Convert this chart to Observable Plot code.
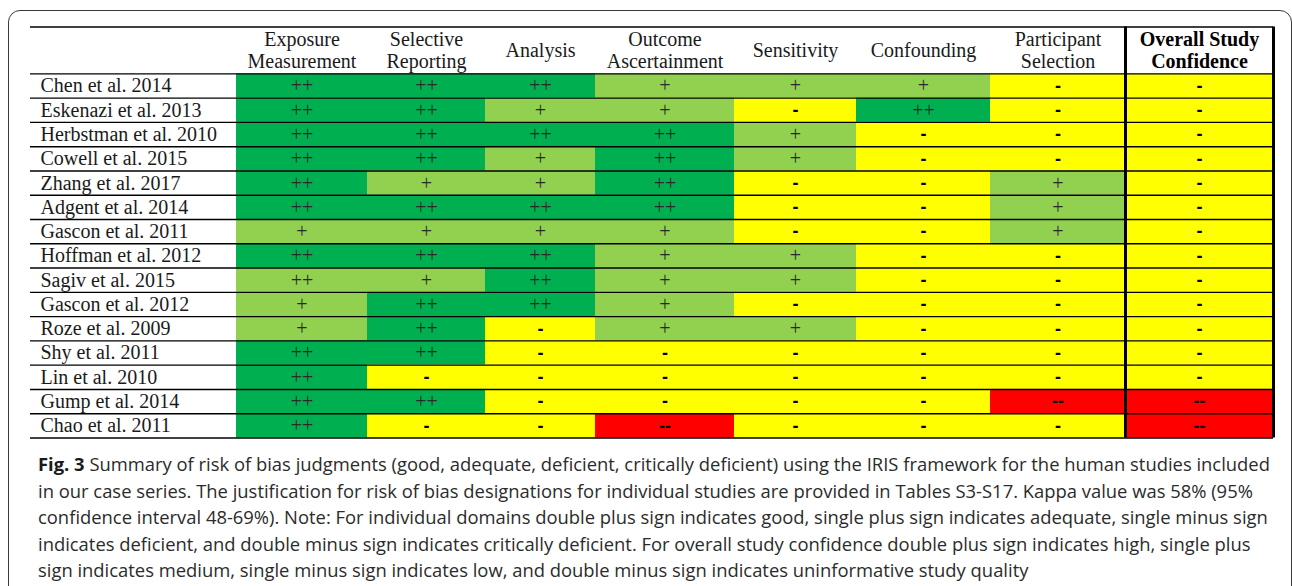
<!DOCTYPE html>
<html><head><meta charset="utf-8">
<script src="https://cdn.jsdelivr.net/npm/d3@7"></script>
<script src="https://cdn.jsdelivr.net/npm/@observablehq/plot@0.6"></script>
<style>
html,body{margin:0;padding:0;background:#fff;overflow:hidden;width:1292px;height:586px;}
#frame{position:absolute;left:8px;top:9.5px;width:1284px;height:700px;border:1.5px solid #3a3a3a;border-radius:12px;box-sizing:border-box;}
#chart{position:absolute;left:0;top:0;}
#caption{position:absolute;left:38px;top:451px;font-family:"Open Sans";font-size:18.4px;line-height:26.5px;color:#2b2b2b;white-space:nowrap;}
#caption b{font-weight:700;color:#1a1a1a;}
</style></head><body>
<div id="frame"></div>
<div id="chart"></div>
<div id="caption"></div>
<script>
// ---- data ----
const studies = [
  "Chen et al. 2014", "Eskenazi et al. 2013", "Herbstman et al. 2010", "Cowell et al. 2015",
  "Zhang et al. 2017", "Adgent et al. 2014", "Gascon et al. 2011", "Hoffman et al. 2012",
  "Sagiv et al. 2015", "Gascon et al. 2012", "Roze et al. 2009", "Shy et al. 2011",
  "Lin et al. 2010", "Gump et al. 2014", "Chao et al. 2011"
];
const domains = [
  "Exposure\nMeasurement", "Selective\nReporting", "Analysis", "Outcome\nAscertainment",
  "Sensitivity", "Confounding", "Participant\nSelection", "Overall Study\nConfidence"
];
const ratings = [
  ["++","++","++","+","+","+","-","-"],
  ["++","++","+","+","-","++","-","-"],
  ["++","++","++","++","+","-","-","-"],
  ["++","++","+","++","+","-","-","-"],
  ["++","+","+","++","-","-","+","-"],
  ["++","++","++","++","-","-","+","-"],
  ["+","+","+","+","-","-","+","-"],
  ["++","++","++","+","+","-","-","-"],
  ["++","+","++","+","+","-","-","-"],
  ["+","++","++","+","-","-","-","-"],
  ["+","++","-","+","+","-","-","-"],
  ["++","++","-","-","-","-","-","-"],
  ["++","-","-","-","-","-","-","-"],
  ["++","++","-","-","-","-","--","--"],
  ["++","-","-","--","-","-","-","--"]
];
// cells whose shading differs from the printed symbol
const fillOverrides = [
  {study: "Sagiv et al. 2015", domain: 0, level: "+"}
];
const levels = ["++", "+", "-", "--"];
const levelColors = ["#00B050", "#92D050", "#FFFF00", "#FF0000"];
const captionLabel = "Fig. 3";
const captionLines = [
  " Summary of risk of bias judgments (good, adequate, deficient, critically deficient) using the IRIS framework for the human studies included",
  "in our case series. The justification for risk of bias designations for individual studies are provided in Tables S3-S17. Kappa value was 58% (95%",
  "confidence interval 48-69%). Note: For individual domains double plus sign indicates good, single plus sign indicates adequate, single minus sign",
  "indicates deficient, and double minus sign indicates critically deficient. For overall study confidence double plus sign indicates high, single plus",
  "sign indicates medium, single minus sign indicates low, and double minus sign indicates uninformative study quality"
];

// ---- layout (not data) ----
const COLUMN_WIDTHS = [206, 131, 118, 110, 139, 122, 134, 135, 148]; // first = study label column
const HEADER_ROWS = 1.93;

const ends = d3.cumsum(COLUMN_WIDTHS);
const starts = [0, ...ends.slice(0, -1)];
const total = ends[ends.length - 1];
const center = c => (starts[c] + ends[c]) / 2;
const N = studies.length;

const cells = [];
studies.forEach((s, i) => {
  ratings[i].forEach((sym, j) => {
    const ov = fillOverrides.find(o => o.study === s && o.domain === j);
    cells.push({study: s, row: i, col: j + 1, symbol: sym, level: ov ? ov.level : sym});
  });
});
const plusCells = cells.filter(d => d.symbol.startsWith("+"));
const minusCells = cells.filter(d => d.symbol.startsWith("-"));
const serif = "'Liberation Serif', 'Times New Roman', serif";

const chart = Plot.plot({
  width: 1292,
  height: 440,
  marginTop: 26.5,
  marginLeft: 30,
  marginRight: 19,
  marginBottom: 2.5,
  x: {domain: [0, total], axis: null},
  y: {domain: [-HEADER_ROWS, N], reverse: true, axis: null},
  color: {domain: levels, range: levelColors},
  style: {background: "transparent", overflow: "visible"},
  marks: [
    Plot.rect(cells, {
      x1: d => starts[d.col], x2: d => ends[d.col],
      y1: "row", y2: d => d.row + 1, fill: "level"
    }),
    Plot.ruleY([-HEADER_ROWS, ...d3.range(0, N + 1)], {x1: 0, x2: total, stroke: "#000", strokeWidth: 1.4}),
    Plot.ruleX([starts[8], total], {y1: -HEADER_ROWS, y2: N, stroke: "#000", strokeWidth: 3}),
    Plot.text(studies, {
      x: 0, y: (d, i) => i + 0.5, text: d => d, textAnchor: "start", dx: 10,
      fontFamily: serif, fontSize: 20, fill: "#1a1a1a"
    }),
    Plot.text(domains.slice(0, 7), {
      x: (d, i) => center(i + 1), y: -HEADER_ROWS / 2, text: d => d, lineHeight: 1.1,
      fontFamily: serif, fontSize: 20, fill: "#1a1a1a"
    }),
    Plot.text(domains.slice(7), {
      x: () => center(8), y: -HEADER_ROWS / 2, text: d => d, lineHeight: 1.1,
      fontFamily: serif, fontSize: 20, fontWeight: "bold", fill: "#000"
    }),
    Plot.text(plusCells, {
      x: d => center(d.col), y: d => d.row + 0.5, text: "symbol",
      fontFamily: serif, fontSize: 20, fill: "#2a2a2a"
    }),
    Plot.text(minusCells, {
      x: d => center(d.col), y: d => d.row + 0.5, text: "symbol",
      fontFamily: "'Liberation Sans', Arial, sans-serif", fontWeight: "bold", fontSize: 18, fill: "#000"
    })
  ]
});
document.getElementById("chart").appendChild(chart);

const cap = document.getElementById("caption");
captionLines.forEach((line, i) => {
  if (i === 0) {
    const b = document.createElement("b");
    b.textContent = captionLabel;
    cap.appendChild(b);
  } else {
    cap.appendChild(document.createElement("br"));
  }
  cap.appendChild(document.createTextNode(line));
});
</script>
</body></html>
